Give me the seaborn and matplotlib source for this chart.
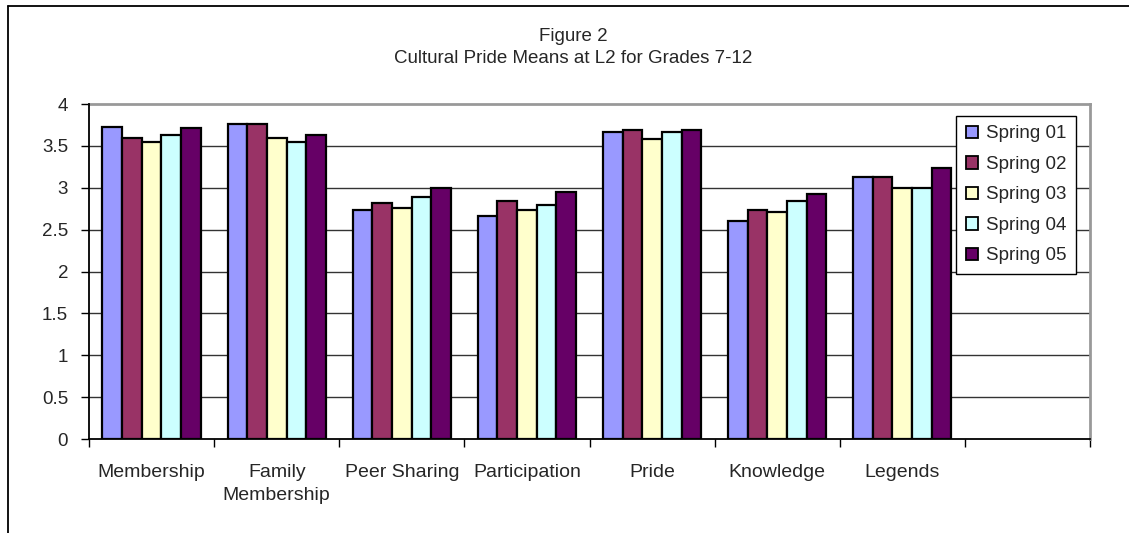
import matplotlib
matplotlib.use("Agg")
import matplotlib.pyplot as plt
from matplotlib.patches import Patch
from matplotlib.lines import Line2D
import seaborn as sns
import pandas as pd
import numpy as np

categories = ["Membership", "Family\nMembership", "Peer Sharing", "Participation",
              "Pride", "Knowledge", "Legends"]
series = ["Spring 01", "Spring 02", "Spring 03", "Spring 04", "Spring 05"]
spring01 = [3.73, 3.76, 2.74, 2.66, 3.66, 2.60, 3.13]
spring02 = [3.60, 3.76, 2.82, 2.84, 3.69, 2.74, 3.13]
spring03 = [3.55, 3.60, 2.76, 2.73, 3.58, 2.71, 3.00]
spring04 = [3.63, 3.55, 2.89, 2.79, 3.66, 2.84, 3.00]
spring05 = [3.71, 3.63, 3.00, 2.95, 3.69, 2.92, 3.24]
colors = ["#9999FF", "#993366", "#FFFFCC", "#CCFFFF", "#660066"]
yticks = [0, 0.5, 1, 1.5, 2, 2.5, 3, 3.5, 4]
ytick_labels = ["0", "0.5", "1", "1.5", "2", "2.5", "3", "3.5", "4"]

rows = []
for s, vals in zip(series, [spring01, spring02, spring03, spring04, spring05]):
    for c, v in zip(categories, vals):
        rows.append({"Category": c, "Series": s, "Value": v})
df = pd.DataFrame(rows)

sns.set_style("white")
plt.rcParams["font.family"] = ["Liberation Sans", "DejaVu Sans"]

W, H = 1129, 533
fig = plt.figure(figsize=(W / 100, H / 100), dpi=100)
ax = fig.add_axes([89 / W, 1 - 439 / H, (1090 - 89) / W, (439 - 104) / H])

sns.barplot(data=df, x="Category", y="Value", hue="Series", order=categories,
            hue_order=series, palette=colors, saturation=1, width=0.785, gap=0,
            edgecolor="black", linewidth=1.6, ax=ax, legend=False, zorder=3)

ax.set_xlim(-0.5, 7.5)
ax.set_ylim(0, 4)
ax.set_xlabel("")
ax.set_ylabel("")

# gridlines
for y in yticks[1:-1]:
    ax.axhline(y, color="#333333", lw=1.0, zorder=1)

ax.set_yticks(yticks)
ax.set_yticklabels(ytick_labels, fontsize=13.5)
ax.tick_params(axis="y", direction="out", length=6, width=1, color="black",
               pad=9, left=True)
ax.set_xticks(range(len(categories)))
ax.set_xticklabels(categories, fontsize=14, linespacing=1.45)
ax.tick_params(axis="x", length=0, pad=18)
ax.set_xticks(np.arange(-0.5, 8.0, 1.0), minor=True)
ax.tick_params(axis="x", which="minor", direction="out", length=6, width=1,
               color="black", bottom=True)

for sp in ["left", "bottom"]:
    ax.spines[sp].set_color("black")
    ax.spines[sp].set_linewidth(1.3)
for sp in ["top", "right"]:
    ax.spines[sp].set_color("#999999")
    ax.spines[sp].set_linewidth(2.0)
ax.spines["left"].set_zorder(5)
ax.spines["bottom"].set_zorder(5)

handles = [Patch(facecolor=c, edgecolor="black", linewidth=1.3) for c in colors]
leg = ax.legend(handles, series, loc="upper right",
                bbox_to_anchor=(1076 / W, 1 - 116 / H),
                bbox_transform=fig.transFigure, fontsize=13.5,
                frameon=True, fancybox=False, framealpha=1,
                edgecolor="black", handlelength=0.65, handleheight=0.65,
                handletextpad=0.45, labelspacing=0.72, borderpad=0.5,
                borderaxespad=0)
leg.get_frame().set_linewidth(1.0)
leg.set_zorder(10)

fig.text(573 / W, 1 - 41 / H, "Figure 2", ha="center", va="baseline", fontsize=13.5)
fig.text(573 / W, 1 - 63 / H, "Cultural Pride Means at L2 for Grades 7-12",
         ha="center", va="baseline", fontsize=13.5)

# outer chart border (top and left)
fig.add_artist(Line2D([8 / W, 1], [1 - 6 / H, 1 - 6 / H], color="black", lw=1.3,
                      transform=fig.transFigure))
fig.add_artist(Line2D([8 / W, 8 / W], [0, 1 - 6 / H], color="black", lw=1.3,
                      transform=fig.transFigure))

fig.savefig("out.png", dpi=100, facecolor="white")
